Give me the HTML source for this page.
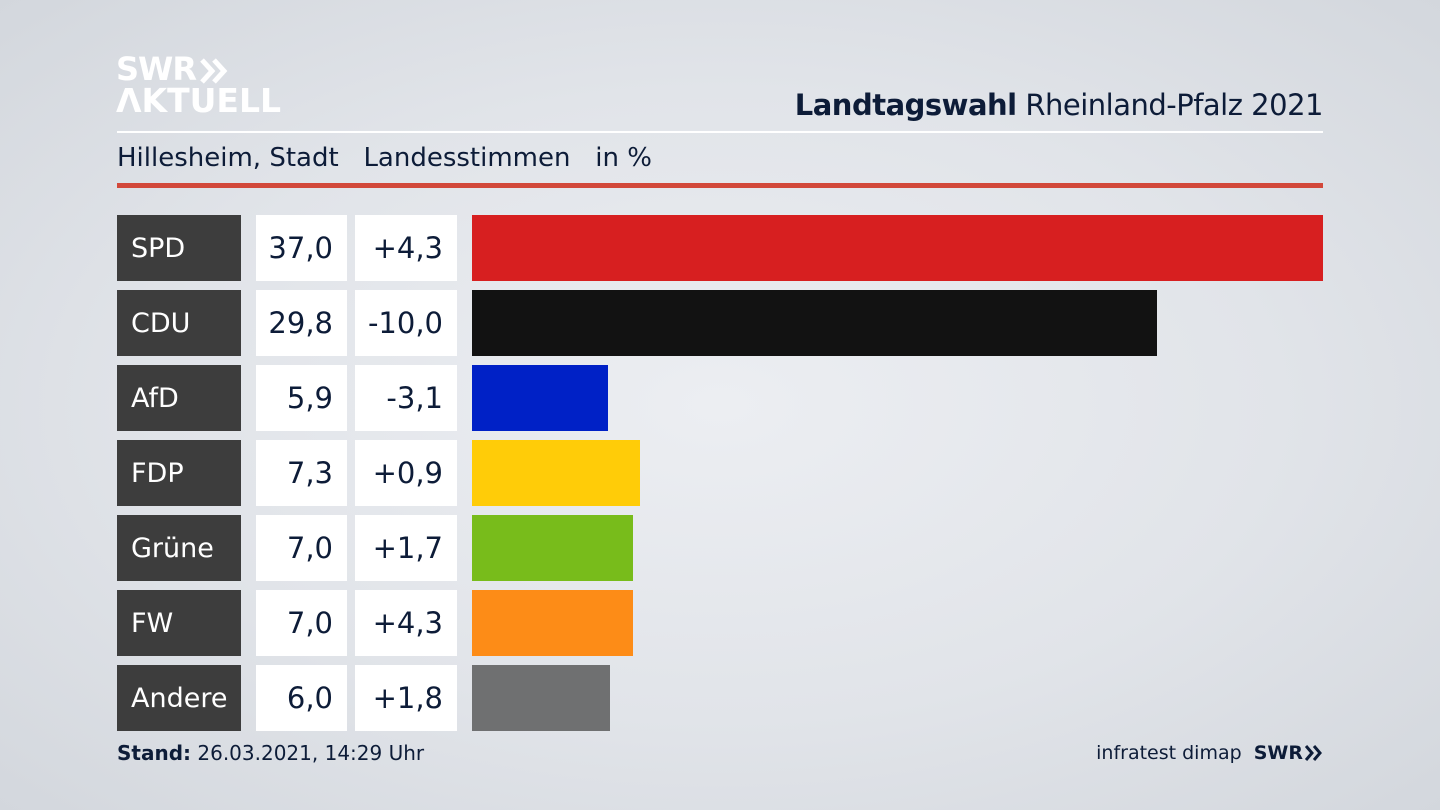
<!DOCTYPE html>
<html><head><meta charset="utf-8"><style>
*{margin:0;padding:0;box-sizing:border-box}
body{width:1440px;height:810px;overflow:hidden;position:relative;font-family:"DejaVu Sans","Liberation Sans",sans-serif;color:#0d1c38;
background:radial-gradient(ellipse at 50% 50%,#eceef2 0%,#e1e4e9 55%,#d3d7dd 100%)}
.a{position:absolute}
.logo{left:116px;color:#fff;font-weight:bold;font-family:"DejaVu Sans",sans-serif;white-space:nowrap}
.row .lab{background:#3d3d3d;color:#fff;font-size:27px;padding-left:14px;display:flex;align-items:center}
.box{background:#fff;font-size:29px;display:flex;align-items:center;justify-content:flex-end;padding-right:14px}
</style></head><body>
<div class="a logo" style="top:51px;font-size:32px;line-height:36px;letter-spacing:-1px">SWR</div>
<svg class="a" style="left:200px;top:58px" width="30" height="26" viewBox="0 0 30 26"><path d="M2 2 L12 13 L2 24 M14 2 L24 13 L14 24" fill="none" stroke="#fff" stroke-width="5"/></svg>
<div class="a logo" style="top:83px;font-size:33px;line-height:36px;letter-spacing:0px">ΛKTUELL</div>
<div class="a" style="right:117px;top:88px;font-size:29px;white-space:nowrap;letter-spacing:-0.5px"><b>Landtagswahl</b> Rheinland-Pfalz 2021</div>
<div class="a" style="left:117px;top:131px;width:1206px;height:2px;background:#fff"></div>
<div class="a" style="left:117px;top:143px;font-size:26px;white-space:nowrap">Hillesheim, Stadt&nbsp;&nbsp; Landesstimmen&nbsp;&nbsp; in %</div>
<div class="a" style="left:117px;top:183px;width:1206px;height:5px;background:#d2483a"></div>
<div id="rows"></div>
<div class="a" style="left:117px;top:741px;font-size:20px"><b>Stand:</b> 26.03.2021, 14:29 Uhr</div>
<div class="a" style="right:137px;top:742px;font-size:19px;white-space:nowrap">infratest dimap <b style="margin-left:6px">SWR</b></div>
<svg class="a" style="left:1305px;top:745px" width="18" height="16" viewBox="0 0 18 16"><path d="M1 1 L7 8 L1 15 M9 1 L15 8 L9 15" fill="none" stroke="#0d1c38" stroke-width="3"/></svg>
<script>
var d=[["SPD","37,0","+4,3",37,"#d71f20"],["CDU","29,8","-10,0",29.8,"#121212"],["AfD","5,9","-3,1",5.9,"#0021c6"],["FDP","7,3","+0,9",7.3,"#ffcc08"],["Grüne","7,0","+1,7",7,"#78bc1b"],["FW","7,0","+4,3",7,"#fd8c17"],["Andere","6,0","+1,8",6,"#6f7071"]];
var h="";d.forEach(function(r,i){var t=215+i*75;
h+='<div class="row"><div class="a lab" style="left:117px;top:'+t+'px;width:124px;height:66px">'+r[0]+'</div>'+
'<div class="a box" style="left:256px;top:'+t+'px;width:91px;height:66px">'+r[1]+'</div>'+
'<div class="a box" style="left:355px;top:'+t+'px;width:102px;height:66px">'+r[2]+'</div>'+
'<div class="a" style="left:472px;top:'+t+'px;width:'+(r[3]*23)+'px;height:66px;background:'+r[4]+'"></div></div>';});
document.getElementById("rows").innerHTML=h;
</script>
</body></html>
